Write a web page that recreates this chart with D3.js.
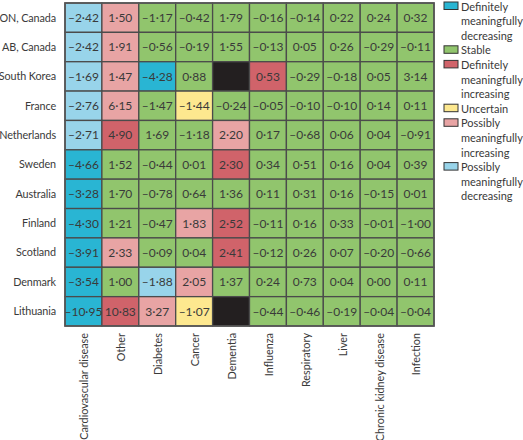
<!DOCTYPE html>
<html>
<head>
<meta charset="utf-8">
<style>
  body { margin: 0; background: #fff; }
  text { font-family: Lato, "Noto Sans", sans-serif; fill: #3a3a3a; }
</style>
</head>
<body>
<svg></svg>
<script src="https://d3js.org/d3.v7.min.js"></script>
<script>
// rows (countries) and columns (causes)
var countries = ["ON, Canada", "AB, Canada", "South Korea", "France", "Netherlands", "Sweden",
                 "Australia", "Finland", "Scotland", "Denmark", "Lithuania"];
var causes = ["Cardiovascular disease", "Other", "Diabetes", "Cancer", "Dementia", "Influenza",
              "Respiratory", "Liver", "Chronic kidney disease", "Infection"];

// values per country, null = not available
var values = [
  [-2.42, 1.50, -1.17, -0.42, 1.79, -0.16, -0.14, 0.22, 0.24, 0.32],
  [-2.42, 1.91, -0.56, -0.19, 1.55, -0.13, 0.05, 0.26, -0.29, -0.11],
  [-1.69, 1.47, -4.28, 0.88, null, 0.53, -0.29, -0.18, 0.05, 3.14],
  [-2.76, 6.15, -1.47, -1.44, -0.24, -0.05, -0.10, -0.10, 0.14, 0.11],
  [-2.71, 4.90, 1.69, -1.18, 2.20, 0.17, -0.68, 0.06, 0.04, -0.91],
  [-4.66, 1.52, -0.44, 0.01, 2.30, 0.34, 0.51, 0.16, 0.04, 0.39],
  [-3.28, 1.70, -0.78, 0.64, 1.36, 0.11, 0.31, 0.16, -0.15, 0.01],
  [-4.30, 1.21, -0.47, 1.83, 2.52, -0.11, 0.16, 0.33, -0.01, -1.00],
  [-3.91, 2.33, -0.09, 0.04, 2.41, -0.12, 0.26, 0.07, -0.20, -0.66],
  [-3.54, 1.00, -1.88, 2.05, 1.37, 0.24, 0.73, 0.04, 0.00, 0.11],
  [-10.95, 10.83, 3.27, -1.07, null, -0.44, -0.46, -0.19, -0.04, -0.04]
];

// trend codes: DD definitely decr, S stable, DI definitely incr, U uncertain,
// PI possibly incr, PD possibly decr, NA missing
var trends = [
  ["PD", "PI", "S", "S", "S", "S", "S", "S", "S", "S"],
  ["PD", "PI", "S", "S", "S", "S", "S", "S", "S", "S"],
  ["PD", "PI", "DD", "S", "NA", "DI", "S", "S", "S", "S"],
  ["PD", "PI", "S", "U", "S", "S", "S", "S", "S", "S"],
  ["PD", "DI", "S", "S", "PI", "S", "S", "S", "S", "S"],
  ["DD", "S", "S", "S", "DI", "S", "S", "S", "S", "S"],
  ["DD", "S", "S", "S", "S", "S", "S", "S", "S", "S"],
  ["DD", "S", "S", "PI", "DI", "S", "S", "S", "S", "S"],
  ["DD", "PI", "S", "S", "DI", "S", "S", "S", "S", "S"],
  ["DD", "S", "PD", "PI", "S", "S", "S", "S", "S", "S"],
  ["DD", "DI", "PI", "U", "NA", "S", "S", "S", "S", "S"]
];

var legendCodes = ["DD", "S", "DI", "U", "PI", "PD"];
var legendLabels = [
  ["Definitely", "meaningfully", "decreasing"],
  ["Stable"],
  ["Definitely", "meaningfully", "increasing"],
  ["Uncertain"],
  ["Possibly", "meaningfully", "increasing"],
  ["Possibly", "meaningfully", "decreasing"]
];

var color = d3.scaleOrdinal()
  .domain(["DD", "S", "DI", "U", "PI", "PD", "NA"])
  .range(["#29b5d3", "#91c56d", "#d0636a", "#fde88f", "#e8a4a4", "#98d4ea", "#231f20"]);

var width = 523, height = 440;
var svg = d3.select("svg").attr("width", width).attr("height", height);

var x = d3.scaleBand().domain(causes).range([65, 434]).padding(0);
var y = d3.scaleBand().domain(countries).range([3, 326]).padding(0);

var cells = [];
countries.forEach(function(c, i) {
  causes.forEach(function(k, j) {
    cells.push({country: c, cause: k, value: values[i][j], trend: trends[i][j]});
  });
});

function fmt(v) {
  return v.toFixed(2).replace(".", "\u00b7").replace("-", "\u2013");
}

svg.append("g").selectAll("rect")
  .data(cells)
  .enter().append("rect")
  .attr("x", function(d) { return x(d.cause); })
  .attr("y", function(d) { return y(d.country); })
  .attr("width", x.bandwidth())
  .attr("height", y.bandwidth())
  .style("fill", function(d) { return color(d.trend); })
  .style("stroke", "#4b4b4b")
  .style("stroke-width", 1.3);

svg.append("rect")
  .attr("x", 65).attr("y", 3).attr("width", 369).attr("height", 323)
  .style("fill", "none").style("stroke", "#555").style("stroke-width", 1.6);

svg.append("g").selectAll("text")
  .data(cells.filter(function(d) { return d.value !== null; }))
  .enter().append("text")
  .attr("x", function(d) { return x(d.cause) + x.bandwidth() / 2; })
  .attr("y", function(d) { return y(d.country) + y.bandwidth() / 2; })
  .attr("dy", "0.36em")
  .attr("text-anchor", "middle")
  .style("font-size", "12px")
  .text(function(d) { return fmt(d.value); });

// row labels
svg.append("g").selectAll("text")
  .data(countries)
  .enter().append("text")
  .attr("x", 56)
  .attr("y", function(d) { return y(d) + y.bandwidth() / 2; })
  .attr("dy", "0.36em")
  .attr("text-anchor", "end")
  .style("font-size", "10.8px")
  .style("letter-spacing", "-0.1px")
  .text(function(d) { return d; });

// column labels
svg.append("g").selectAll("text")
  .data(causes)
  .enter().append("text")
  .attr("transform", function(d) {
    return "translate(" + (x(d) + x.bandwidth() / 2 + 1) + ",333) rotate(-90)";
  })
  .attr("dy", "0.36em")
  .attr("text-anchor", "end")
  .style("font-size", "10.8px")
  .text(function(d) { return d; });

// legend
var lineH = 14.6;
var legend = svg.append("g");
var row = 0;
legendCodes.forEach(function(code, i) {
  var top = 2 + row * lineH;
  legend.append("rect")
    .attr("x", 444).attr("y", top)
    .attr("width", 14).attr("height", 7.5)
    .style("fill", color(code))
    .style("stroke", "#333").style("stroke-width", 1);
  legendLabels[i].forEach(function(line, k) {
    legend.append("text")
      .attr("x", 461)
      .attr("y", top + 8.5 + k * lineH)
      .style("font-size", "11px")
      .text(line);
  });
  row += legendLabels[i].length;
});
</script>
</body>
</html>
